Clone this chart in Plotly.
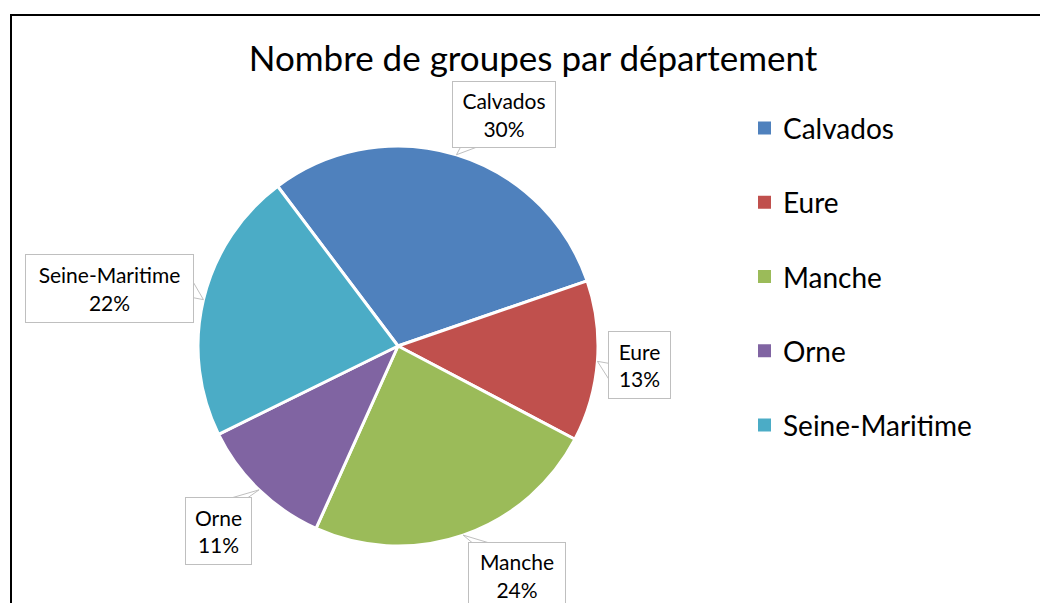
import math
import plotly.graph_objects as go

# ---- data ----
departements = ["Calvados", "Eure", "Manche", "Orne", "Seine-Maritime"]
groupes = [30, 13, 24, 11, 22]
couleurs = ["#4F81BD", "#C0504D", "#9BBB59", "#8064A2", "#4BACC6"]
titre = "Nombre de groupes par département"

# ---- layout constants ----
W, H = 1040, 603
CX, CY, R = 398, 346, 200          # pie centre / radius in px
ROTATION = -37                     # start angle (deg, clockwise from 12 o'clock)
FONT = "Lato"
GREY = "#BFBFBF"

# callout box offsets (px from slice tip to box centre) and box sizes
label_dx = [48, 42, 54, -41, -94]
label_dy = [-40, 4, 40, 41, -11]
box_w = [104, 63, 98, 67, 169]
box_h = [67, 68, 67, 68, 69]

fig = go.Figure(go.Pie(
    labels=departements,
    values=groupes,
    sort=False,
    direction="clockwise",
    rotation=ROTATION,
    marker=dict(colors=couleurs, line=dict(color="white", width=3)),
    textinfo="none",
    hoverinfo="label+percent",
    showlegend=False,
    domain=dict(x=[(CX - R) / W, (CX + R) / W],
                y=[1 - (CY + R) / H, 1 - (CY - R) / H]),
))


def px(x, y):
    return x / W, 1 - y / H


total = sum(groupes)
annotations = []
shapes = []
cum = 0
for i, (lab, v) in enumerate(zip(departements, groupes)):
    mid = ROTATION + 360 * (cum + v / 2) / total
    cum += v
    tx = CX + R * math.sin(math.radians(mid))
    ty = CY - R * math.cos(math.radians(mid))
    bx, by = tx + label_dx[i], ty + label_dy[i]
    left, right = bx - box_w[i] / 2, bx + box_w[i] / 2
    top, bot = by - box_h[i] / 2, by + box_h[i] / 2
    # tail base on the box edge facing the tip
    hw = 8
    if ty > bot:
        cxb = min(max(tx, left), right)
        cxb += 12 if cxb < bx else -12
        p1, p2 = (cxb - hw, bot - 1), (cxb + hw, bot - 1)
    elif ty < top:
        cxb = min(max(tx, left), right)
        cxb += 12 if cxb < bx else -12
        p1, p2 = (cxb - hw, top + 1), (cxb + hw, top + 1)
    elif tx > right:
        cyb = min(max(ty, top), bot)
        cyb += 10 if cyb < by else -10
        p1, p2 = (right - 1, cyb - hw), (right - 1, cyb + hw)
    else:
        cyb = min(max(ty, top), bot)
        cyb += 10 if cyb < by else -10
        p1, p2 = (left + 1, cyb - hw), (left + 1, cyb + hw)
    a, b, c = px(tx, ty), px(*p1), px(*p2)
    shapes.append(dict(type="path", xref="paper", yref="paper",
                       path=f"M {a[0]} {a[1]} L {b[0]} {b[1]} L {c[0]} {c[1]} Z",
                       fillcolor="white", line=dict(color=GREY, width=1), layer="above"))
    pct = round(100 * v / total)
    cx_, cy_ = px(bx, by)
    annotations.append(dict(
        x=cx_, y=cy_, xref="paper", yref="paper",
        xanchor="center", yanchor="middle",
        text=f"{lab}<br>{pct}%", showarrow=False,
        width=box_w[i] - 2, height=box_h[i] - 2,
        bordercolor=GREY, borderwidth=1, borderpad=0, bgcolor="white",
        font=dict(family=FONT, size=21, color="black"),
        align="center", valign="middle",
    ))

# manual legend
LEG_X, LEG_Y0, LEG_STEP, SQ = 758, 128, 74.25, 13
for i, (lab, c) in enumerate(zip(departements, couleurs)):
    yc = LEG_Y0 + i * LEG_STEP
    shapes.append(dict(type="rect", xref="paper", yref="paper",
                       x0=LEG_X / W, x1=(LEG_X + SQ) / W,
                       y0=1 - (yc + SQ / 2) / H, y1=1 - (yc - SQ / 2) / H,
                       fillcolor=c, line=dict(width=0)))
    annotations.append(dict(x=(LEG_X + 23) / W, y=1 - yc / H, xref="paper", yref="paper",
                            text=lab, showarrow=False, xanchor="left", yanchor="middle",
                            font=dict(family=FONT, size=28, color="black")))

# outer chart border
shapes.append(dict(type="rect", xref="paper", yref="paper",
                   x0=11 / W, x1=1.02, y0=-0.02, y1=1 - 15 / H,
                   line=dict(color="black", width=2), fillcolor="rgba(0,0,0,0)"))

fig.update_layout(
    width=W, height=H,
    margin=dict(l=0, r=0, t=0, b=0),
    paper_bgcolor="white", plot_bgcolor="white",
    title=dict(text=titre, x=533 / W, xanchor="center", y=1 - 59 / H, yanchor="middle",
               font=dict(family=FONT, size=35, color="black")),
    annotations=annotations,
    shapes=shapes,
)

fig.write_html("out.html", config={"displayModeBar": False},
               post_script="document.body.style.margin='0';document.body.style.overflow='hidden';")
